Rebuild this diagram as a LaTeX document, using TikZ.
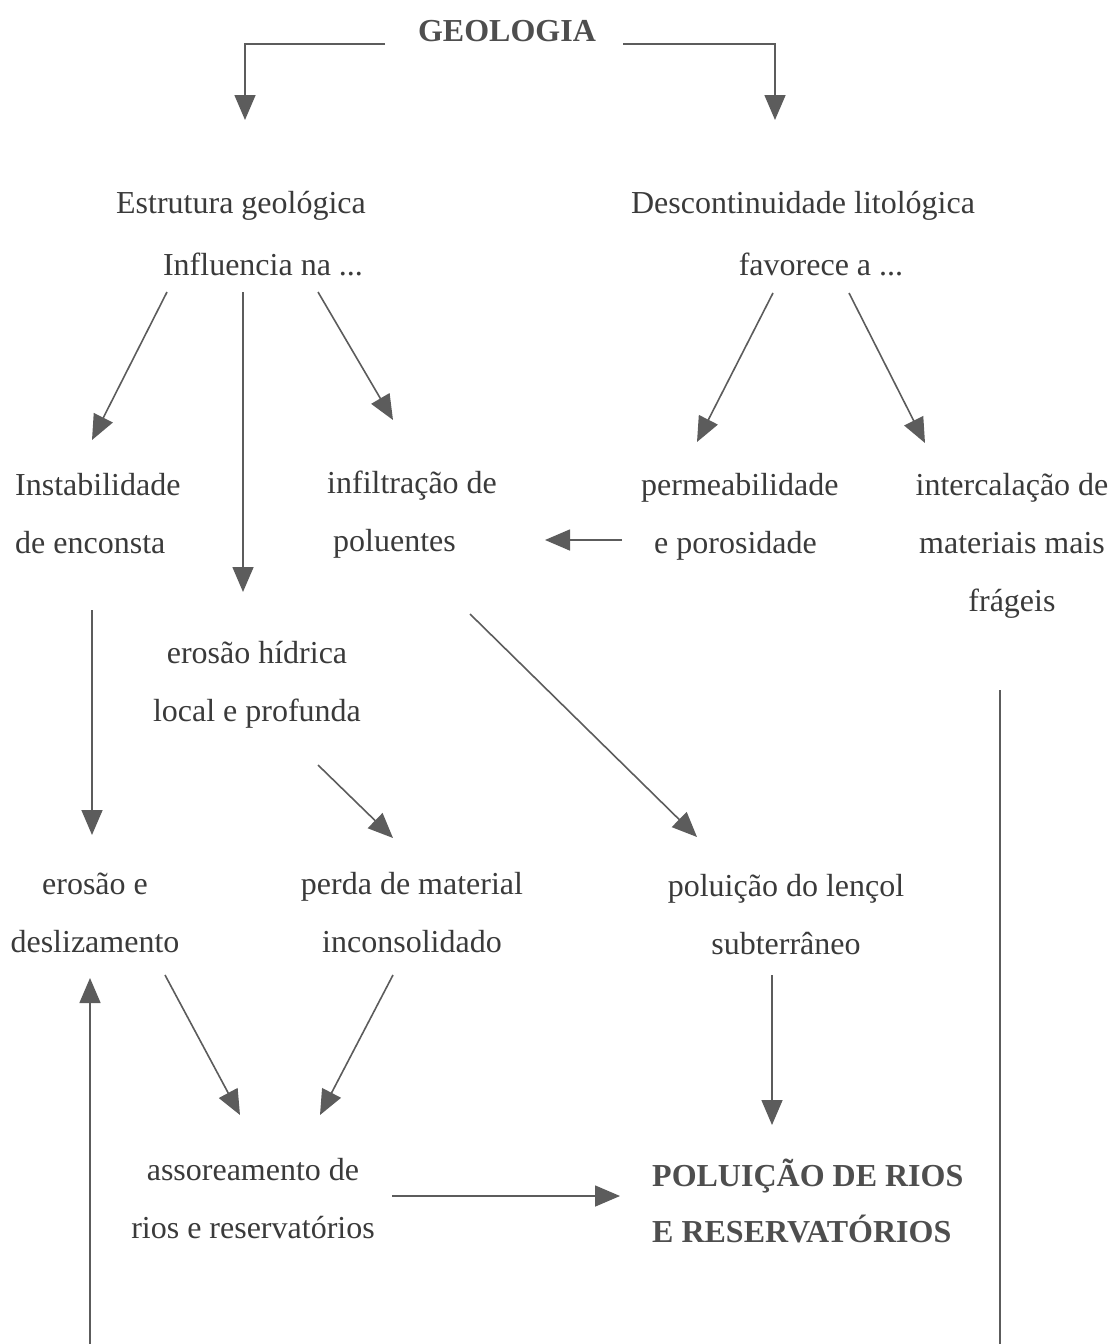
\documentclass[tikz,border=0pt]{standalone}
\usepackage{fontspec}
\setmainfont{Liberation Serif}
\usetikzlibrary{arrows.meta}
\definecolor{inkgray}{HTML}{3A3A3A}
\definecolor{linegray}{HTML}{5C5C5C}
\tikzset{
  txt/.style={font=\fontsize{32}{58}\selectfont, text=inkgray, inner sep=0pt},
  wide/.style={font=\fontsize{32}{62}\selectfont},
  title/.style={txt, font=\fontsize{32}{56}\selectfont\bfseries, text=inkgray!90},
  arr/.style={draw=linegray, line width=1.6pt,
    -{Triangle[length=25pt,width=21pt]}},
  plain/.style={draw=linegray, line width=1.6pt}
}
\begin{document}
\begin{tikzpicture}[x=1pt,y=-1pt]
  \useasboundingbox (0,0) rectangle (1115,1344);

  % text blocks
  \node[title] (geo) at (507,31) {GEOLOGIA};
  \node[txt,wide,align=center] (est) at (241,234)
    {Estrutura geológica\\\hspace*{44pt}Influencia na ...};
  \node[txt,wide,align=center] (desc) at (803,234)
    {Descontinuidade litológica\\\hspace*{36pt}favorece a ...};
  \node[txt,align=left,anchor=west] (inst) at (15,514)
    {Instabilidade\\de enconsta};
  \node[txt,align=left,anchor=west] (inf) at (327,515)
    {infiltração de\\\hspace*{6pt}poluentes};
  \node[txt,align=left,anchor=west] (perm) at (641,517)
    {permeabilidade\\\hspace*{13pt}e porosidade};
  \node[txt,align=center] (inter) at (1012,546)
    {intercalação de\\materiais mais\\frágeis};
  \node[txt,align=center] (ero) at (257,685)
    {erosão hídrica\\local e profunda};
  \node[txt,align=center] (erod) at (95,913)
    {erosão e\\deslizamento};
  \node[txt,align=center] (perda) at (412,913)
    {perda de material\\inconsolidado};
  \node[txt,align=center] (polu) at (786,915)
    {poluição do lençol\\subterrâneo};
  \node[txt,align=center] (asso) at (253,1199)
    {assoreamento de\\rios e reservatórios};
  \node[title,align=left,anchor=west] (pol) at (652,1201)
    {POLUIÇÃO DE RIOS\\E RESERVATÓRIOS};

  % loose ends of the long return path along the bottom
  \coordinate (loopL) at (90,1344);
  \coordinate (loopR) at (1000,1344);

  % connectors
  \draw[arr] ([shift={(-122,13)}]geo.center) -| ([shift={(4,-114)}]est.center);
  \draw[arr] ([shift={(116,13)}]geo.center) -| ([shift={(-28,-114)}]desc.center);

  \draw[arr] ([shift={(-74,58)}]est.center) -- ([shift={(77,-74)}]inst.west);
  \draw[arr] ([shift={(2,58)}]est.center) -- ([shift={(-14,-93)}]ero.center);
  \draw[arr] ([shift={(77,58)}]est.center) -- ([shift={(66,-95)}]inf.west);

  \draw[arr] ([shift={(-30,59)}]desc.center) -- ([shift={(56,-75)}]perm.west);
  \draw[arr] ([shift={(46,59)}]desc.center) -- ([shift={(-87,-103)}]inter.center);

  \draw[arr] ([shift={(-19,23)}]perm.west) -- ([shift={(218,25)}]inf.west);

  \draw[arr] ([shift={(77,96)}]inst.west) -- ([shift={(-3,-78)}]erod.center);
  \draw[arr] ([shift={(143,99)}]inf.west) -- ([shift={(-89,-78)}]polu.center);
  \draw[arr] ([shift={(61,80)}]ero.center) -- ([shift={(-19,-75)}]perda.center);

  \draw[arr] ([shift={(70,62)}]erod.center) -- ([shift={(-13,-84)}]asso.center);
  \draw[arr] ([shift={(-19,62)}]perda.center) -- ([shift={(67,-84)}]asso.center);
  \draw[arr] ([shift={(-14,60)}]polu.center) -- ([shift={(120,-76)}]pol.west);

  \draw[arr] ([shift={(139,-3)}]asso.center) -- ([shift={(-32,-5)}]pol.west);

  \draw[arr] (loopL) -- ([shift={(-5,65)}]erod.center);
  \draw[plain] ([shift={(-12,144)}]inter.center) -- (loopR);
\end{tikzpicture}
\end{document}
